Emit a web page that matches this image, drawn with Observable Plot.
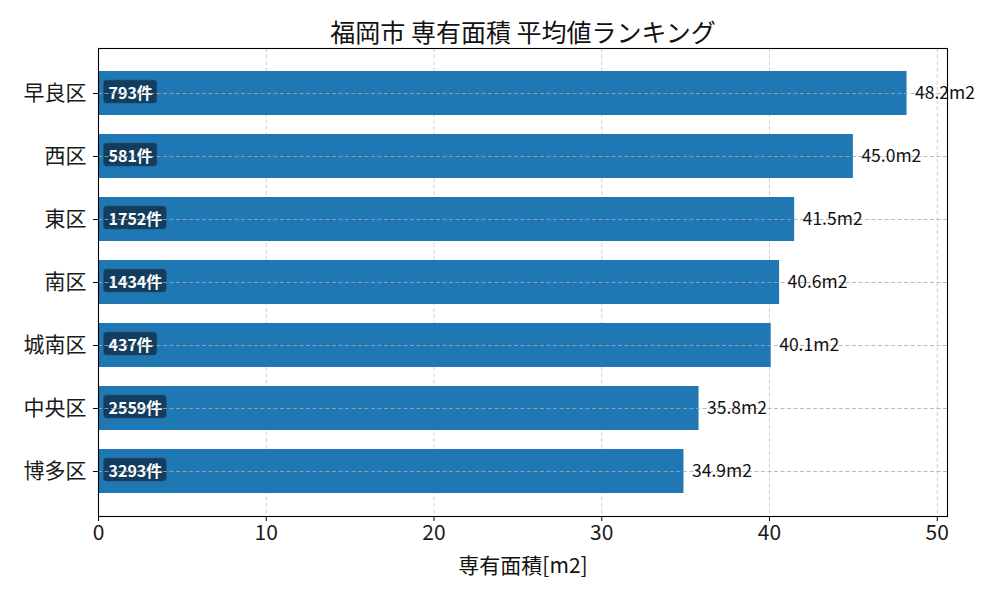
<!DOCTYPE html>
<html><head><meta charset="utf-8">
<script src="https://cdn.jsdelivr.net/npm/d3@7"></script>
<script src="https://cdn.jsdelivr.net/npm/@observablehq/plot@0.6"></script>
<style>body{margin:0;background:#fff}</style>
</head><body><div id="chart"></div>
<script>
const wards = ["早良区","西区","東区","南区","城南区","中央区","博多区"];
const avgArea = [48.2, 45.0, 41.5, 40.6, 40.1, 35.8, 34.9];
const counts = [793, 581, 1752, 1434, 437, 2559, 3293];
const xTicks = [0, 10, 20, 30, 40, 50];
const titleText = "福岡市 専有面積 平均値ランキング";
const xLabel = "専有面積[m2]";

const rows = wards.map((w, i) => ({ward: w, area: avgArea[i], count: counts[i]}));
const font = "'Noto Sans CJK JP','Noto Sans',sans-serif";

const plot = Plot.plot({
  width: 1000, height: 600,
  marginLeft: 98, marginRight: 53, marginTop: 48, marginBottom: 84,
  style: {fontFamily: font, background: "#fff", color: "#1a1a1a", overflow: "visible"},
  x: {domain: [0, 50.61]},
  y: {type: "band", domain: wards, paddingInner: 0.3, paddingOuter: 0.335},
  marks: [
    Plot.gridX(xTicks, {stroke: "#c4c4c4", strokeOpacity: 1, strokeWidth: 0.8, strokeDasharray: "4,2.5"}),
    Plot.barX(rows, {y: "ward", x: "area", fill: "#1f77b4"}),
    Plot.text(rows, {y: "ward", x: d => 0, text: d => `${d.count}件`, textAnchor: "start", dx: 10,
      fill: "white", fontWeight: "bold", fontSize: 16, className: "cnt"}),
    Plot.ruleY(rows, {y: "ward", stroke: "#a8a8a8", strokeWidth: 0.8, strokeDasharray: "4,2.5"}),
    Plot.text(rows, {y: "ward", x: "area", text: d => d.area.toFixed(1) + "m2", textAnchor: "start", dx: 8,
      fontSize: 17.5, fill: "#111"}),
    Plot.frame({stroke: "#000", strokeWidth: 1.1}),
    Plot.axisX(xTicks, {fontSize: 21, tickSize: 5, tickPadding: 4, label: null, stroke: "#000"}),
    Plot.axisY({fontSize: 21, tickSize: 5, tickPadding: 7, label: null, stroke: "#000"}),
    Plot.text([titleText], {frameAnchor: "top", lineAnchor: "middle", dy: -15, fontSize: 25, fill: "#111"}),
    Plot.text([xLabel], {frameAnchor: "bottom", lineAnchor: "middle", dy: 50, fontSize: 21, fill: "#111"})
  ]
});
document.getElementById("chart").appendChild(plot);

// rounded dark boxes behind the count labels
d3.select(plot).selectAll("g.cnt text").each(function() {
  const bb = this.getBBox();
  const cy = bb.y + bb.height / 2;
  const r = d3.select(this.parentNode).insert("rect", () => this)
    .attr("x", bb.x - 5).attr("y", cy - 11.5)
    .attr("width", bb.width + 9).attr("height", 23)
    .attr("rx", 3).attr("fill", "#133a5a").attr("fill-opacity", 0.95)
    .attr("stroke", "#2a5478").attr("stroke-width", 0.6);
  const t = this.getAttribute("transform");
  if (t) r.attr("transform", t);
});
</script>
</body></html>
